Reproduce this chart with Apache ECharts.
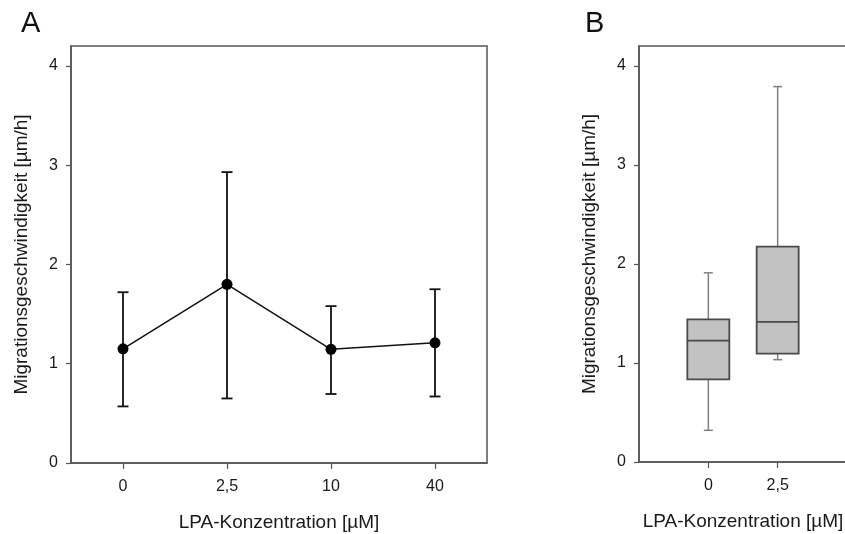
<!DOCTYPE html>
<html><head><meta charset="utf-8">
<script src="https://cdn.jsdelivr.net/npm/echarts@6/dist/echarts.min.js"></script>
<style>html,body{margin:0;padding:0;background:#fff}#c{width:845px;height:534px}</style>
</head><body><div id="c"></div>
<script>
// Panel A: mean ± error
const catsA = ['0', '2,5', '10', '40'];
const meanA = [1.15, 1.80, 1.145, 1.21];
const lowA = [0.57, 0.65, 0.695, 0.67];
const highA = [1.72, 2.93, 1.58, 1.75];
// Panel B: box plots
const catsB = ['', '0', '2,5', ''];
const boxIdxB = [1, 2];
const minB = [0.32, 1.033];
const q1B = [0.835, 1.094];
const medB = [1.225, 1.414];
const q3B = [1.44, 2.175];
const maxB = [1.91, 3.79];
const yTicks = [0, 1, 2, 3, 4];
const yMax = 4.2;
const xName = 'LPA-Konzentration [µM]';
const yName = 'Migrationsgeschwindigkeit [µm/h]';

const FONT = '"Liberation Sans", Arial, sans-serif';
const TXT = '#1a1a1a';
const FRAME = '#555';

const chart = echarts.init(document.getElementById('c'), null, {renderer: 'canvas'});

function yAxisCfg(gridIndex) {
  return {
    type: 'value', gridIndex, min: 0, max: yMax,
    axisLine: {show: true, lineStyle: {color: FRAME, width: 1.5}},
    axisTick: {show: true, length: 5, customValues: yTicks, lineStyle: {color: FRAME, width: 1.2}},
    axisLabel: {customValues: yTicks, color: TXT, fontSize: 16, fontFamily: FONT, margin: 13},
    splitLine: {show: false},
    name: yName, nameLocation: 'middle', nameGap: 40,
    nameTextStyle: {color: TXT, fontSize: 19, fontFamily: FONT}
  };
}

const errData = catsA.map((c, i) => [i, lowA[i], highA[i]]);
const boxData = boxIdxB.map((ix, i) => [ix, minB[i], q1B[i], medB[i], q3B[i], maxB[i]]);

const option = {
  backgroundColor: '#fff',
  animation: false,
  graphic: [
    {type: 'text', left: 21, top: 9, style: {text: 'A', fontSize: 29, fontFamily: FONT, fill: '#111'}},
    {type: 'text', left: 585, top: 9, style: {text: 'B', fontSize: 29, fontFamily: FONT, fill: '#111'}}
  ],
  grid: [
    {left: 71, top: 46, width: 416, height: 417, show: true, borderColor: FRAME, borderWidth: 1.5, backgroundColor: 'transparent', outerBoundsMode: 'none', containLabel: false},
    {left: 639, top: 46, width: 208, height: 416, show: true, borderColor: FRAME, borderWidth: 1.5, backgroundColor: 'transparent', outerBoundsMode: 'none', containLabel: false}
  ],
  xAxis: [
    {
      type: 'category', gridIndex: 0, data: catsA, boundaryGap: true,
      axisLine: {show: true, lineStyle: {color: FRAME, width: 1.5}},
      axisTick: {show: true, alignWithLabel: true, length: 6, lineStyle: {color: FRAME, width: 1.2}},
      axisLabel: {color: TXT, fontSize: 16, fontFamily: FONT, margin: 16},
      name: xName, nameLocation: 'middle', nameGap: 50,
      nameTextStyle: {color: TXT, fontSize: 19, fontFamily: FONT}
    },
    {
      type: 'category', gridIndex: 1, data: catsB, boundaryGap: false,
      axisLine: {show: true, lineStyle: {color: FRAME, width: 1.5}},
      axisTick: {show: true, length: 6, interval: (i, v) => v !== '', lineStyle: {color: FRAME, width: 1.2}},
      axisLabel: {color: TXT, fontSize: 16, fontFamily: FONT, margin: 16, interval: 0},
      name: xName, nameLocation: 'middle', nameGap: 50,
      nameTextStyle: {color: TXT, fontSize: 19, fontFamily: FONT}
    }
  ],
  yAxis: [yAxisCfg(0), yAxisCfg(1)],
  series: [
    {
      type: 'custom', xAxisIndex: 0, yAxisIndex: 0, data: errData, z: 2,
      renderItem: function (params, api) {
        const x = api.value(0);
        const lo = api.coord([x, api.value(1)]);
        const hi = api.coord([x, api.value(2)]);
        const hw = 5.5;
        const st = {stroke: '#111', lineWidth: 1.8};
        return {type: 'group', children: [
          {type: 'line', shape: {x1: lo[0], y1: lo[1], x2: hi[0], y2: hi[1]}, style: st},
          {type: 'line', shape: {x1: lo[0] - hw, y1: lo[1], x2: lo[0] + hw, y2: lo[1]}, style: st},
          {type: 'line', shape: {x1: hi[0] - hw, y1: hi[1], x2: hi[0] + hw, y2: hi[1]}, style: st}
        ]};
      }
    },
    {
      type: 'line', xAxisIndex: 0, yAxisIndex: 0, data: meanA, z: 3,
      symbol: 'circle', symbolSize: 11,
      itemStyle: {color: '#000'},
      lineStyle: {color: '#111', width: 1.5}
    },
    {
      type: 'custom', xAxisIndex: 1, yAxisIndex: 1, data: boxData, z: 2,
      renderItem: function (params, api) {
        const x = api.value(0);
        const pMin = api.coord([x, api.value(1)]);
        const pQ1 = api.coord([x, api.value(2)]);
        const pMed = api.coord([x, api.value(3)]);
        const pQ3 = api.coord([x, api.value(4)]);
        const pMax = api.coord([x, api.value(5)]);
        const bw = 21, cw = 4.5;
        const ws = {stroke: '#808080', lineWidth: 1.5};
        const bs = {stroke: '#4a4a4a', lineWidth: 1.8};
        return {type: 'group', children: [
          {type: 'line', shape: {x1: pMin[0], y1: pMin[1], x2: pQ1[0], y2: pQ1[1]}, style: ws},
          {type: 'line', shape: {x1: pQ3[0], y1: pQ3[1], x2: pMax[0], y2: pMax[1]}, style: ws},
          {type: 'line', shape: {x1: pMin[0] - cw, y1: pMin[1], x2: pMin[0] + cw, y2: pMin[1]}, style: ws},
          {type: 'line', shape: {x1: pMax[0] - cw, y1: pMax[1], x2: pMax[0] + cw, y2: pMax[1]}, style: ws},
          {type: 'rect', shape: {x: pQ3[0] - bw, y: pQ3[1], width: 2 * bw, height: pQ1[1] - pQ3[1]}, style: {fill: '#c2c2c2', stroke: '#4a4a4a', lineWidth: 1.8}},
          {type: 'line', shape: {x1: pMed[0] - bw, y1: pMed[1], x2: pMed[0] + bw, y2: pMed[1]}, style: bs}
        ]};
      }
    }
  ]
};
chart.setOption(option);
</script>
</body></html>
